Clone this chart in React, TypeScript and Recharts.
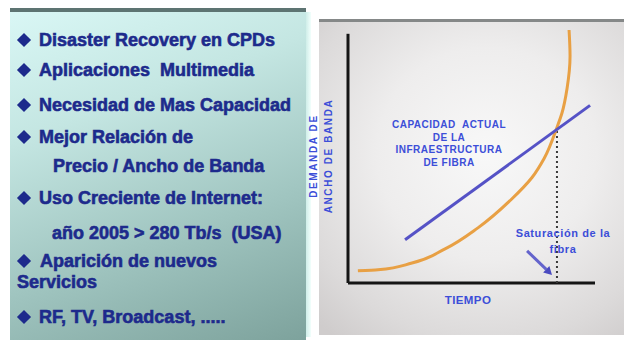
import React from "react";
import { ComposedChart, Line, XAxis, YAxis, ReferenceLine } from "recharts";

// Bandwidth demand vs. installed fibre capacity, both on a 0–100 scale
const demandTime = [4.0, 12.1, 25.9, 39.3, 52.6, 66.4, 74.5, 79.4, 84.6, 86.6, 88.7, 89.9, 89.5];
const demandValue = [4.8, 5.2, 7.9, 13.5, 21.8, 33.3, 41.7, 49.2, 61.5, 67.1, 77.0, 89.7, 100];
const capacityTime = [23.1, 98.0];
const capacityValue = [17.1, 70.2];
const saturationTime = 84.6;
const saturationValue = 61.5;
const arrowTime = [72.5, 82.6];
const arrowValue = [12.7, 3.2];
const axisTop = 98.5;

const bulletLines = [
  "Disaster Recovery en CPDs",
  "Aplicaciones  Multimedia",
  "Necesidad de Mas Capacidad",
  "Mejor Relación de",
  "Precio / Ancho de Banda",
  "Uso Creciente de Internet:",
  "año 2005 > 280 Tb/s  (USA)",
  "Aparición de nuevos",
  "Servicios",
  "RF, TV, Broadcast, .....",
];
const capacityLabel = ["CAPACIDAD  ACTUAL", "DE LA", "INFRAESTRUCTURA", "DE FIBRA"];
const saturationLabel = ["Saturación de la", "fibra"];
const axisTitleY = ["DEMANDA DE", "ANCHO DE BANDA"];
const axisTitleX = "TIEMPO";

const demand = demandTime.map((t, i) => ({ t, v: demandValue[i] }));
const capacity = capacityTime.map((t, i) => ({ t, v: capacityValue[i] }));

// line layout for the bullet list: [center y, text x, has marker]
const bulletLayout: [number, number, boolean][] = [
  [40, 39, true],
  [70, 39, true],
  [105, 39, true],
  [137, 39, true],
  [166, 53, false],
  [198, 39, true],
  [233, 52, false],
  [261, 40, true],
  [282, 17, false],
  [317, 39, true],
];

const NAVY = "#1d2a8c";
const LABEL_BLUE = "#3c4ed8";
const FONT = "'Liberation Sans', Arial, sans-serif";

function Arrow(props: any) {
  const { x1, y1, x2, y2 } = props;
  const a = Math.atan2(y2 - y1, x2 - x1);
  const len = 8;
  const w = 4.5;
  const bx = x2 - len * Math.cos(a);
  const by = y2 - len * Math.sin(a);
  const px = -Math.sin(a) * w;
  const py = Math.cos(a) * w;
  return (
    <g>
      <line x1={x1} y1={y1} x2={bx} y2={by} stroke="#6464cc" strokeWidth={3} />
      <polygon
        points={`${x2},${y2} ${bx + px},${by + py} ${bx - px},${by - py}`}
        fill="#4a4ac0"
      />
    </g>
  );
}

export default function App() {
  return (
    <div
      style={{
        position: "absolute",
        left: 0,
        top: 0,
        width: 624,
        height: 340,
        background: "#ffffff",
        overflow: "hidden",
        fontFamily: FONT,
      }}
    >
      {/* left panel */}
      <div
        style={{
          position: "absolute",
          left: 10,
          top: 8,
          width: 296,
          height: 329,
          background:
            "linear-gradient(160deg, #d9f7f5 0%, #c4e6e2 30%, #a0c5c0 65%, #7da29c 100%)",
          borderTop: "4px solid #5d7472",
        }}
      />
      <div
        style={{
          position: "absolute",
          left: 306,
          top: 12,
          width: 5,
          height: 325,
          background: "linear-gradient(90deg, #cfeee9, #f2fffc)",
        }}
      />
      {bulletLines.map((text, i) => {
        const [cy, x, marker] = bulletLayout[i];
        return (
          <React.Fragment key={i}>
            {marker && (
              <div
                style={{
                  position: "absolute",
                  left: 19,
                  top: cy - 5,
                  width: 10,
                  height: 10,
                  background: NAVY,
                  transform: "rotate(45deg)",
                }}
              />
            )}
            <div
              style={{
                position: "absolute",
                left: x,
                top: cy - 11,
                height: 22,
                lineHeight: "22px",
                fontSize: 18,
                fontWeight: 700,
                color: NAVY,
                whiteSpace: "pre",
                WebkitTextStroke: `0.6px ${NAVY}`,
              }}
            >
              {text}
            </div>
          </React.Fragment>
        );
      })}

      {/* right panel */}
      <div
        style={{
          position: "absolute",
          left: 319,
          top: 19,
          width: 305,
          height: 313,
          background:
            "radial-gradient(ellipse 80% 75% at 55% 42%, #f8f8f8 0%, #eeeded 45%, #dcdada 80%, #cfcccc 100%)",
          borderTop: "3px solid #858888",
        }}
      />

      <div style={{ position: "absolute", left: 0, top: 0 }}>
        <ComposedChart
          width={624}
          height={340}
          margin={{ top: 30, right: 29, bottom: 57, left: 348 }}
        >
          <XAxis type="number" dataKey="t" domain={[0, 100]} allowDataOverflow hide />
          <YAxis type="number" dataKey="v" domain={[0, 100]} allowDataOverflow hide />
          {/* axes */}
          <ReferenceLine
            segment={[
              { x: 0, y: 0 },
              { x: 0, y: axisTop },
            ]}
            stroke="#151515"
            strokeWidth={3}
          />
          <ReferenceLine
            segment={[
              { x: 0, y: 0 },
              { x: 100, y: 0 },
            ]}
            stroke="#151515"
            strokeWidth={3}
          />
          <ReferenceLine
            segment={[
              { x: saturationTime, y: 0 },
              { x: saturationTime, y: saturationValue },
            ]}
            stroke="#3a3a3a"
            strokeWidth={2}
            strokeDasharray="2 3"
          />
          <Line
            data={demand}
            dataKey="v"
            type="monotoneY"
            stroke="#e8a044"
            strokeWidth={3}
            dot={false}
            isAnimationActive={false}
          />
          <Line
            data={capacity}
            dataKey="v"
            type="linear"
            stroke="#5552c6"
            strokeWidth={3}
            dot={false}
            isAnimationActive={false}
          />
          <ReferenceLine
            segment={[
              { x: arrowTime[0], y: arrowValue[0] },
              { x: arrowTime[1], y: arrowValue[1] },
            ]}
            shape={Arrow}
          />
        </ComposedChart>
      </div>

      {/* chart annotations */}
      {capacityLabel.map((t, i) => (
        <div
          key={t}
          style={{
            position: "absolute",
            left: 369,
            width: 160,
            top: 119 + i * 12.5,
            textAlign: "center",
            fontSize: 10,
            lineHeight: "12px",
            fontWeight: 700,
            letterSpacing: 0.5,
            color: LABEL_BLUE,
            whiteSpace: "pre",
          }}
        >
          {t}
        </div>
      ))}
      {saturationLabel.map((t, i) => (
        <div
          key={t}
          style={{
            position: "absolute",
            left: 503,
            width: 120,
            top: 227 + i * 16,
            textAlign: "center",
            fontSize: 11,
            lineHeight: "12px",
            fontWeight: 700,
            letterSpacing: 0.6,
            color: LABEL_BLUE,
          }}
        >
          {t}
        </div>
      ))}
      {axisTitleY.map((t, i) => (
        <div
          key={t}
          style={{
            position: "absolute",
            left: (i === 0 ? 314 : 329) - 80,
            top: 156 - 6,
            width: 160,
            height: 12,
            lineHeight: "12px",
            textAlign: "center",
            transform: "rotate(-90deg)",
            fontSize: 10,
            fontWeight: 700,
            letterSpacing: 1.6,
            color: LABEL_BLUE,
          }}
        >
          {t}
        </div>
      ))}
      <div
        style={{
          position: "absolute",
          left: 408,
          width: 120,
          top: 293,
          textAlign: "center",
          fontSize: 11.5,
          lineHeight: "14px",
          fontWeight: 700,
          letterSpacing: 0.4,
          color: LABEL_BLUE,
        }}
      >
        {axisTitleX}
      </div>
    </div>
  );
}
